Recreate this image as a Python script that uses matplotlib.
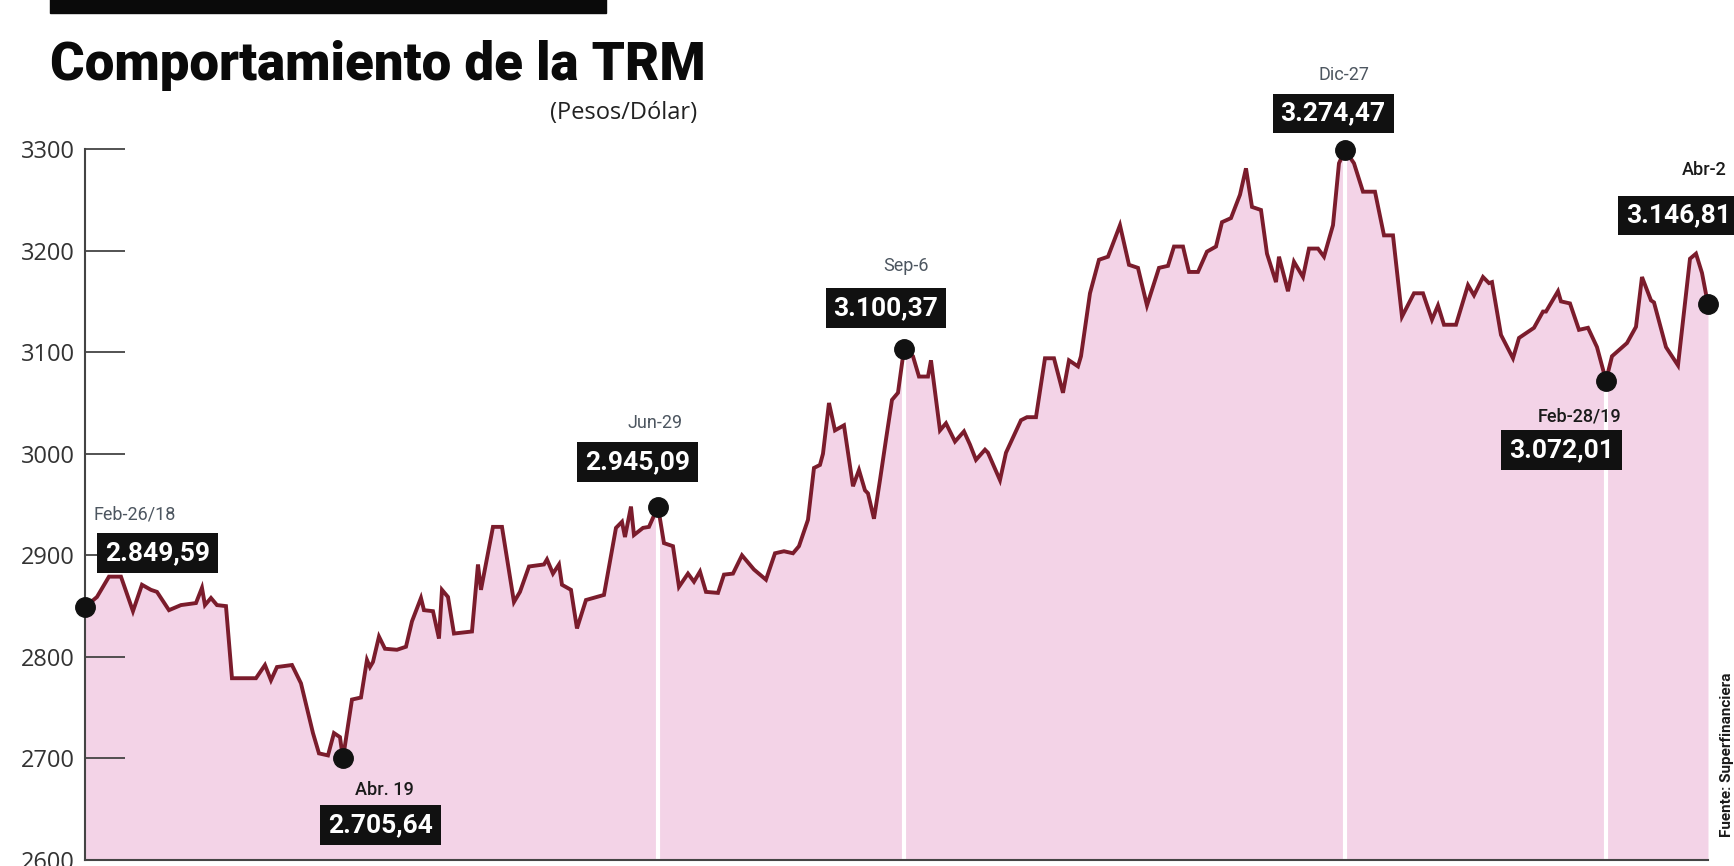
import matplotlib
matplotlib.use('Agg')
import matplotlib.pyplot as plt
from matplotlib.patches import Rectangle

# TRM: indice de sesion y pesos por dolar
dia = [0, 4, 8, 12, 16, 19, 22, 24, 28, 32, 37, 39, 40, 42, 44, 47, 49, 57, 60, 62,
       64, 69, 72, 76, 78, 81, 83, 85, 86, 89, 92, 94, 95, 96, 98, 100, 104, 107, 109, 112,
       113, 116, 118, 119, 121, 123, 129, 131, 132, 136, 139, 143, 145, 148, 153, 154, 156, 158, 159, 162,
       164, 167, 173, 177, 179, 180, 182, 183, 186, 188, 191, 193, 196, 198, 201, 203, 205, 207, 211, 213,
       216, 219, 223, 227, 230, 233, 236, 238, 241, 243, 245, 246, 248, 250, 253, 256, 258, 260, 261, 263,
       265, 267, 269, 271, 273, 276, 278, 281, 282, 285, 287, 290, 293, 295, 297, 300, 301, 305, 307, 312,
       314, 317, 320, 323, 326, 328, 331, 332, 335, 338, 341, 345, 348, 351, 354, 358, 361, 363, 366, 368,
       371, 374, 377, 379, 382, 385, 387, 389, 392, 394, 397, 398, 401, 403, 406, 408, 411, 413, 416, 418,
       420, 423, 426, 430, 433, 436, 439, 443, 446, 449, 451, 453, 457, 461, 463, 466, 468, 469, 472, 476,
       478, 483, 486, 487, 491, 492, 495, 498, 501, 504, 507, 509, 514, 517, 519, 522, 523, 527, 531, 535,
       537, 539, 541]
trm = [2849, 2859, 2879, 2879, 2845, 2871, 2866, 2864, 2846, 2851, 2853, 2868, 2851, 2858, 2851, 2850, 2779, 2779, 2792, 2777,
       2790, 2792, 2774, 2725, 2705, 2703, 2725, 2721, 2700, 2758, 2760, 2797, 2790, 2795, 2820, 2808, 2807, 2810, 2835, 2858,
       2846, 2845, 2818, 2866, 2859, 2823, 2825, 2891, 2866, 2928, 2928, 2854, 2864, 2889, 2891, 2896, 2882, 2891, 2871, 2866,
       2828, 2856, 2861, 2927, 2933, 2918, 2948, 2920, 2927, 2928, 2948, 2912, 2909, 2869, 2882, 2874, 2884, 2864, 2863, 2881,
       2882, 2900, 2886, 2876, 2902, 2904, 2902, 2909, 2935, 2986, 2989, 3000, 3050, 3023, 3028, 2968, 2984, 2964, 2961, 2936,
       2974, 3014, 3053, 3060, 3103, 3096, 3076, 3076, 3092, 3023, 3030, 3012, 3022, 3009, 2994, 3004, 3001, 2974, 3001, 3033,
       3036, 3036, 3094, 3094, 3060, 3092, 3086, 3096, 3158, 3191, 3194, 3225, 3186, 3183, 3146, 3183, 3185, 3204, 3204, 3179,
       3179, 3199, 3204, 3228, 3232, 3255, 3281, 3243, 3240, 3197, 3169, 3194, 3160, 3189, 3174, 3202, 3202, 3194, 3225, 3286,
       3299, 3286, 3258, 3258, 3215, 3215, 3135, 3158, 3158, 3132, 3146, 3127, 3127, 3166, 3156, 3174, 3168, 3169, 3117, 3094,
       3114, 3124, 3140, 3140, 3160, 3150, 3148, 3122, 3124, 3105, 3072, 3096, 3109, 3125, 3174, 3151, 3149, 3105, 3087, 3192,
       3197, 3178, 3147]

# fechas destacadas
hitos_dia = [0, 86, 191, 273, 420, 507, 541]
hitos_fecha = ['Feb-26/18', 'Abr. 19', 'Jun-29', 'Sep-6', 'Dic-27', 'Feb-28/19', 'Abr-2']
hitos_valor = ['2.849,59', '2.705,64', '2.945,09', '3.100,37', '3.274,47', '3.072,01', '3.146,81']

marcas_y = [2600, 2700, 2800, 2900, 3000, 3100, 3200, 3300]

ROJO = '#7b1c2c'
ROSA = '#f3d3e7'

plt.rcParams['font.family'] = ['Roboto', 'DejaVu Sans']

fig = plt.figure(figsize=(17.34, 8.66), dpi=100)
ax = fig.add_axes([0.049, 0.0069, 0.936, 0.821])

ax.fill_between(dia, trm, 2600, color=ROSA, lw=0, zorder=1)

# lineas blancas bajo los puntos destacados
puntos_y = [trm[dia.index(d)] for d in hitos_dia]
for d, v in zip(hitos_dia[2:6], puntos_y[2:6]):
    ax.vlines(d, 2600, v - 8, color='white', lw=3, zorder=2)

ax.plot(dia, trm, color=ROJO, lw=2.8, zorder=3, solid_joinstyle='miter')
ax.plot(hitos_dia, puntos_y, 'o', color='#111111', ms=14, zorder=4, clip_on=False)

ax.set_xlim(0, 541)
ax.set_ylim(2600, 3300)
ax.set_yticks(marcas_y)
ax.set_yticklabels([str(m) for m in marcas_y], family=['Open Sans', 'DejaVu Sans'])
ax.set_xticks([])
ax.tick_params(axis='y', direction='in', length=29, width=1.3, color='#444444',
               pad=7, labelsize=17, labelcolor='#333333')
for lado in ['top', 'right']:
    ax.spines[lado].set_visible(False)
ax.spines['left'].set_color('#444444')
ax.spines['left'].set_linewidth(1.5)
ax.spines['bottom'].set_color('#444444')
ax.spines['bottom'].set_linewidth(1.5)
ax.patch.set_alpha(0)

# cajas con el valor y etiqueta de fecha (desplazamientos en puntos)
caja_off = [(52, 39), (27, -48), (-15, 32), (-13, 29.5), (-8.6, 26.3), (-32, -50), (-21, 64)]
fecha_off = [(36, 67), (29.5, -23), (-2, 60.5), (1.4, 60), (-0.7, 54), (-18.7, -26), (-3, 96.5)]
fecha_osc = [False, True, False, False, False, True, True]

for i in range(len(hitos_dia)):
    ax.annotate(hitos_valor[i], xy=(hitos_dia[i], puntos_y[i]), xytext=caja_off[i],
                textcoords='offset points', ha='center', va='center', color='white',
                fontsize=19, fontweight='bold', annotation_clip=False, zorder=6,
                bbox=dict(boxstyle='square,pad=0.3', fc='#111111', ec='none'))
    if fecha_osc[i]:
        ax.annotate(hitos_fecha[i], xy=(hitos_dia[i], puntos_y[i]), xytext=fecha_off[i],
                    textcoords='offset points', ha='center', va='center', color='#1a1a1a',
                    fontsize=13, fontweight='medium', annotation_clip=False, zorder=6)
    else:
        ax.annotate(hitos_fecha[i], xy=(hitos_dia[i], puntos_y[i]), xytext=fecha_off[i],
                    textcoords='offset points', ha='center', va='center', color='#4d5660',
                    fontsize=13, annotation_clip=False, zorder=6)

# titulo y barra superior
fig.add_artist(Rectangle((50 / 1734, 1 - 13 / 866), 556 / 1734, 0.03,
                         transform=fig.transFigure, color='#0a0a0a'))
fig.text(0.0288, 1 - 80 / 866, 'Comportamiento de la TRM', fontsize=38, fontweight='black',
         va='baseline', ha='left', color='#0a0a0a')
fig.text(697 / 1734, 1 - 119 / 866, '(Pesos/Dólar)', fontsize=17, va='baseline', ha='right',
         color='#222222', family=['Open Sans', 'DejaVu Sans'])
fig.text(1727 / 1734, 1 - 755 / 866, 'Fuente: Superfinanciera', rotation=90, ha='center',
         va='center', fontsize=11, fontweight='bold', color='#1a1a1a')

fig.savefig('out.png', dpi=100)
